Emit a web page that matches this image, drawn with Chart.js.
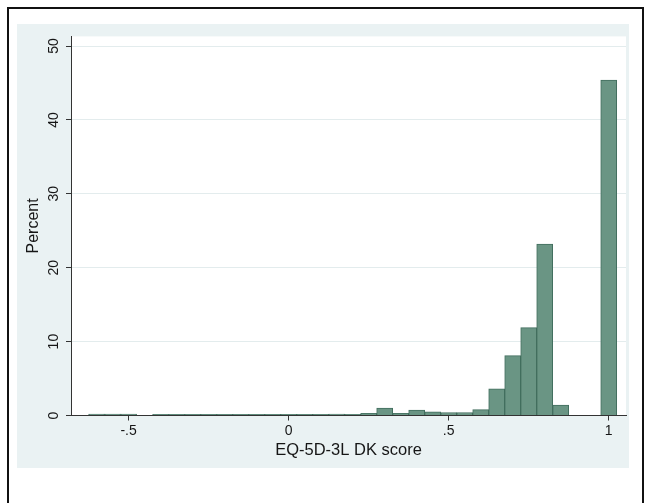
<!DOCTYPE html>
<html>
<head>
<meta charset="utf-8">
<script src="https://cdn.jsdelivr.net/npm/chart.js@4.4.1/dist/chart.umd.min.js"></script>
<style>
  html, body { margin: 0; padding: 0; background: #ffffff; }
  body { width: 649px; height: 503px; position: relative; overflow: hidden; }
  #frame {
    position: absolute; left: 7px; top: 7px; width: 633px; height: 510px;
    border: 2px solid #111;
  }
  #panel {
    position: absolute; left: 17px; top: 24px; width: 612px; height: 444px;
    background: #eaf2f3;
  }
  #chart { display: block; }
</style>
</head>
<body>
<div id="frame"></div>
<div id="panel"><canvas id="chart" width="612" height="444"></canvas></div>
<script>
// Histogram bins (centres, width .05) and percent per bin
const binCenters = [-0.6, -0.55, -0.5, -0.45, -0.4, -0.35, -0.3, -0.25, -0.2, -0.15, -0.1, -0.05,
                    0, 0.05, 0.1, 0.15, 0.2, 0.25, 0.3, 0.35, 0.4, 0.45, 0.5, 0.55,
                    0.6, 0.65, 0.7, 0.75, 0.8, 0.85, 0.9, 0.95, 1.0];
const percents   = [0.2, 0.2, 0.2, 0, 0.15, 0.15, 0.15, 0.15, 0.15, 0.15, 0.15, 0.15,
                    0.15, 0.15, 0.15, 0.2, 0.15, 0.3, 1.0, 0.3, 0.75, 0.5, 0.4, 0.4,
                    0.8, 3.6, 8.1, 11.9, 23.2, 1.4, 0, 0, 45.4];

const xTickValues = [-0.5, 0, 0.5, 1];
const xTickLabels = ['-.5', '0', '.5', '1'];
const yTickValues = [0, 10, 20, 30, 40, 50];

const FONT = 'Liberation Sans, Arial, sans-serif';
const TEXT = '#161616';
const AXIS = '#333333';

// white plot region inside the light panel
const plotBg = {
    id: 'plotBg',
    beforeDraw(chart) {
        const a = chart.chartArea;
        const ctx = chart.ctx;
        ctx.save();
        ctx.fillStyle = '#ffffff';
        ctx.fillRect(a.left, a.top, a.right - a.left, a.bottom - a.top);
        ctx.restore();
    }
};

new Chart(document.getElementById('chart'), {
    type: 'bar',
    data: {
        datasets: [{
            data: binCenters.map((x, i) => ({ x: x, y: percents[i] })),
            backgroundColor: '#6a9584',
            borderColor: '#426e5e',
            borderWidth: 1,
            barPercentage: 1,
            categoryPercentage: 1
        }]
    },
    options: {
        responsive: false,
        animation: false,
        layout: { padding: { top: 9, right: 3, left: 0, bottom: 0 } },
        plugins: { legend: { display: false }, tooltip: { enabled: false } },
        scales: {
            x: {
                type: 'linear',
                offset: false,
                min: -0.68,
                max: 1.054,
                afterBuildTicks: s => { s.ticks = xTickValues.map(v => ({ value: v })); },
                afterFit: s => { s.height = 52.5; },
                ticks: {
                    padding: 2,
                    color: TEXT,
                    font: { family: FONT, size: 14 },
                    maxRotation: 0,
                    callback: v => xTickLabels[xTickValues.indexOf(v)]
                },
                grid: { offset: false, drawOnChartArea: false, drawTicks: true, tickLength: 5, tickColor: AXIS, tickWidth: 1 },
                border: { display: true, color: AXIS, width: 1 },
                title: {
                    display: true,
                    text: 'EQ-5D-3L DK score',
                    color: TEXT,
                    font: { family: FONT, size: 16.5 },
                    padding: { top: 0, bottom: 8 }
                }
            },
            y: {
                min: 0,
                max: 51.3,
                afterBuildTicks: s => { s.ticks = yTickValues.map(v => ({ value: v })); },
                afterFit: s => { s.width = 54; },
                ticks: {
                    minRotation: 90,
                    maxRotation: 90,
                    crossAlign: 'center',
                    padding: 4,
                    color: TEXT,
                    font: { family: FONT, size: 14 }
                },
                grid: { color: '#e3eced', lineWidth: 1, drawTicks: true, tickLength: 5, tickColor: AXIS, tickWidth: 1 },
                border: { display: true, color: AXIS, width: 1 },
                title: {
                    display: true,
                    text: 'Percent',
                    color: TEXT,
                    font: { family: FONT, size: 16 },
                    padding: { top: 7, bottom: 0 }
                }
            }
        }
    },
    plugins: [plotBg]
});
</script>
</body>
</html>
